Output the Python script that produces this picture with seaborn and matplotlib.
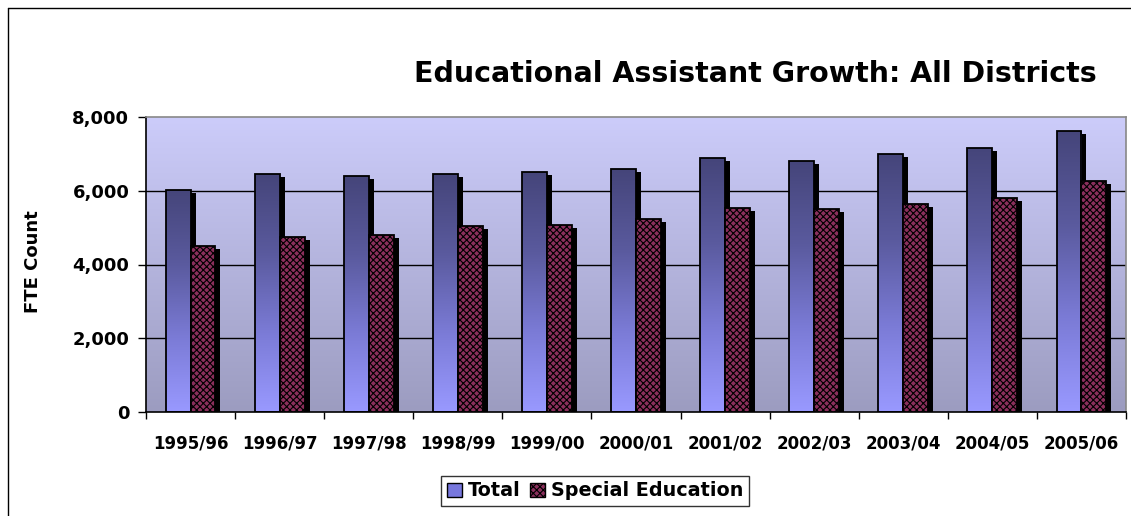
import numpy as np
import pandas as pd
import matplotlib.pyplot as plt
import seaborn as sns
from matplotlib.colors import LinearSegmentedColormap
from matplotlib.patches import Rectangle
from matplotlib.lines import Line2D
from matplotlib.ticker import FixedLocator, FuncFormatter

# data
years = ['1995/96', '1996/97', '1997/98', '1998/99', '1999/00', '2000/01',
         '2001/02', '2002/03', '2003/04', '2004/05', '2005/06']
total = [6030, 6450, 6400, 6450, 6500, 6580, 6900, 6810, 7000, 7170, 7630]
special = [4500, 4735, 4805, 5040, 5075, 5230, 5540, 5500, 5630, 5810, 6265]
series_names = ['Total', 'Special Education']

df = pd.DataFrame({
    'Year': years + years,
    'FTE': total + special,
    'Series': [series_names[0]] * len(years) + [series_names[1]] * len(years),
})

sns.set_theme(style='white')
plt.rcParams['font.family'] = ['DejaVu Sans']
plt.rcParams['text.color'] = 'black'
plt.rcParams['xtick.color'] = 'black'
plt.rcParams['ytick.color'] = 'black'
plt.rcParams['hatch.linewidth'] = 0.8

W, H = 1131, 516
fig = plt.figure(figsize=(W / 100, H / 100), dpi=100)
ax = fig.add_axes([146 / W, 1 - 412 / H, 980 / W, 295 / H])

sns.barplot(data=df, x='Year', y='FTE', hue='Series', ax=ax, width=0.56,
            palette=['#7777DD', '#8B2F5C'], edgecolor='black', linewidth=1.3,
            legend=False, zorder=3, saturation=1)

# plot area background gradient
bg_cmap = LinearSegmentedColormap.from_list('bg', ['#9C9CC0', '#CCCCFA'])
grad = np.linspace(0, 1, 256).reshape(-1, 1)
ax.imshow(grad, extent=[-0.5, 10.5, 0, 8000], origin='lower', aspect='auto',
          cmap=bg_cmap, zorder=0)

# gridlines
for v in [2000, 4000, 6000]:
    ax.axhline(v, color='black', lw=1, zorder=1)

# px -> data conversions for the shadow offset
px_x = 11 / 980
px_y = 8000 / 295

bar_cmap = LinearSegmentedColormap.from_list('bar', ['#9999FF', '#7B7BD6', '#5A5A9E', '#45457A'])
for i, cont in enumerate(ax.containers):
    for p in cont.patches:
        x, w, h = p.get_x(), p.get_width(), p.get_height()
        sh = Rectangle((x + 5 * px_x, 0), w, h - 3 * px_y, facecolor='black',
                       edgecolor='none', zorder=2)
        ax.add_patch(sh)
        if i == 0:
            p.set_facecolor('none')
            im = ax.imshow(grad, extent=[x, x + w, 0, h], origin='lower',
                           aspect='auto', cmap=bar_cmap, zorder=2.5)
            im.set_clip_path(p)
        else:
            p.set_hatch('xxxxx')

ax.set_xlim(-0.5, 10.5)
ax.set_ylim(0, 8000)

# axes styling
for s in ['left', 'bottom']:
    ax.spines[s].set_color('black')
    ax.spines[s].set_linewidth(1.2)
for s in ['top', 'right']:
    ax.spines[s].set_color('#888888')
    ax.spines[s].set_linewidth(1.2)

ax.set_yticks([0, 2000, 4000, 6000, 8000])
ax.yaxis.set_major_formatter(FuncFormatter(lambda v, pos: f'{int(v):,}'))
ax.xaxis.set_minor_locator(FixedLocator(np.arange(-0.5, 11, 1)))
ax.tick_params(axis='x', which='major', length=0, pad=16, labelsize=12, labelcolor='black')
ax.tick_params(axis='x', which='minor', length=5, width=1, color='black', direction='out', bottom=True)
ax.tick_params(axis='y', length=6, width=1, color='black', direction='out', left=True,
               labelsize=13, pad=6, labelcolor='black')
for lab in ax.get_xticklabels() + ax.get_yticklabels():
    lab.set_fontweight('bold')
ax.set_xlabel('')
ax.set_ylabel('')

fig.text(33 / W, 1 - 262 / H, 'FTE Count', rotation=90, ha='center', va='center',
         fontsize=13, fontweight='bold', color='black')
fig.text(1097 / W, 1 - 74 / H, 'Educational Assistant Growth: All Districts',
         ha='right', va='center', fontsize=20.5, fontweight='bold', color='black')

# legend
handles = [Rectangle((0, 0), 1, 1, facecolor='#7777DD', edgecolor='black', lw=1),
           Rectangle((0, 0), 1, 1, facecolor='#8B2F5C', edgecolor='black', lw=1, hatch='xxxxx')]
leg = fig.legend(handles, series_names, loc='center', bbox_to_anchor=(595 / W, 1 - 491 / H),
                 ncol=2, frameon=True, fancybox=False, handlelength=0.8, handleheight=0.8,
                 handletextpad=0.3, columnspacing=0.5, borderpad=0.3,
                 prop={'size': 13.8, 'weight': 'bold'})
leg.get_frame().set_edgecolor('black')
leg.get_frame().set_linewidth(1)
for t in leg.get_texts():
    t.set_color('black')

# chart area border (left and top edges visible)
fig.add_artist(Line2D([8 / W, 8 / W], [0, 1 - 8 / H], color='black', lw=1))
fig.add_artist(Line2D([8 / W, 1], [1 - 8 / H, 1 - 8 / H], color='black', lw=1))

fig.savefig('out.png', dpi=100, facecolor='white')
